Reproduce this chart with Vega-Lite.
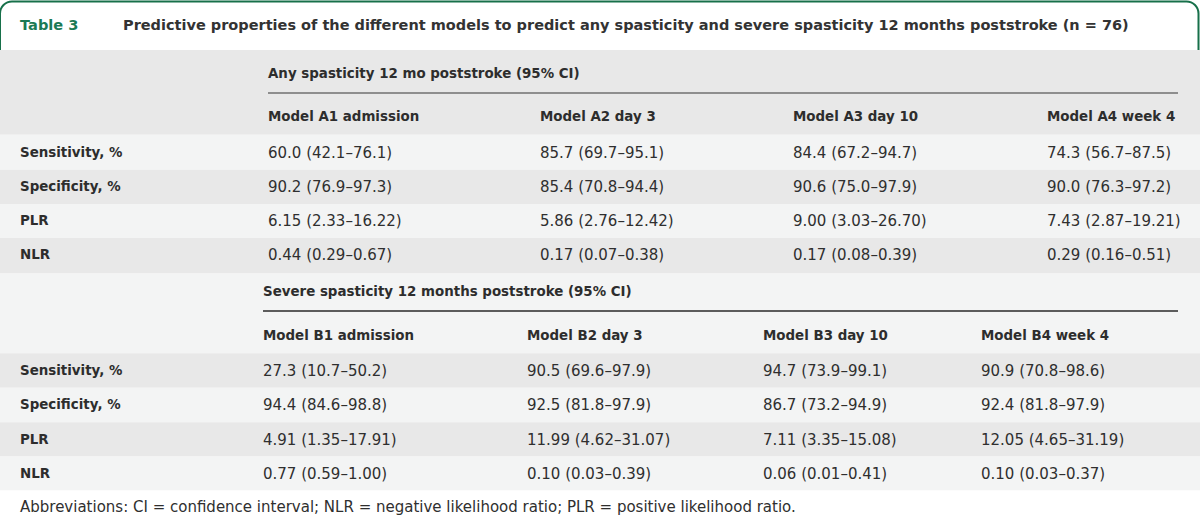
{
  "$schema": "https://vega.github.io/schema/vega-lite/v6.json",
  "width": 1200,
  "height": 525,
  "padding": 0,
  "autosize": {"type": "none"},
  "background": "white",
  "config": {"view": {"stroke": null}, "text": {"font": "DejaVu Sans", "fontSize": 15, "baseline": "middle", "align": "left", "color": "#2f2f2f"}},
  "datasets": {
    "bands": [
      {"top": 0.5, "bottom": 3.5, "shade": "dark"},
      {"top": 3.5, "bottom": 4.5, "shade": "light"},
      {"top": 4.5, "bottom": 5.5, "shade": "dark"},
      {"top": 5.5, "bottom": 6.5, "shade": "light"},
      {"top": 6.5, "bottom": 7.5, "shade": "dark"},
      {"top": 7.5, "bottom": 10.5, "shade": "light"},
      {"top": 10.5, "bottom": 11.5, "shade": "dark"},
      {"top": 11.5, "bottom": 12.5, "shade": "light"},
      {"top": 12.5, "bottom": 13.5, "shade": "dark"},
      {"top": 13.5, "bottom": 14.5, "shade": "light"}
    ],
    "rules": [
      {"sec": "A", "row": 2, "from": 1, "to": 5},
      {"sec": "B", "row": 9, "from": 1, "to": 5}
    ],
    "cells": [
      {"sec": "T", "row": 0, "col": 0, "kind": "tag", "text": "Table 3"},
      {"sec": "T", "row": 0, "col": 0, "kind": "title", "text": "Predictive properties of the different models to predict any spasticity and severe spasticity 12 months poststroke (n = 76)"},
      {"sec": "A", "row": 1, "col": 1, "kind": "head", "text": "Any spasticity 12 mo poststroke (95% CI)"},
      {"sec": "A", "row": 3, "col": 1, "kind": "head", "text": "Model A1 admission"},
      {"sec": "A", "row": 3, "col": 2, "kind": "head", "text": "Model A2 day 3"},
      {"sec": "A", "row": 3, "col": 3, "kind": "head", "text": "Model A3 day 10"},
      {"sec": "A", "row": 3, "col": 4, "kind": "head", "text": "Model A4 week 4"},
      {"sec": "A", "row": 4, "col": 0, "kind": "label", "text": "Sensitivity, %"},
      {"sec": "A", "row": 4, "col": 1, "kind": "value", "text": "60.0 (42.1–76.1)"},
      {"sec": "A", "row": 4, "col": 2, "kind": "value", "text": "85.7 (69.7–95.1)"},
      {"sec": "A", "row": 4, "col": 3, "kind": "value", "text": "84.4 (67.2–94.7)"},
      {"sec": "A", "row": 4, "col": 4, "kind": "value", "text": "74.3 (56.7–87.5)"},
      {"sec": "A", "row": 5, "col": 0, "kind": "label", "text": "Specificity, %"},
      {"sec": "A", "row": 5, "col": 1, "kind": "value", "text": "90.2 (76.9–97.3)"},
      {"sec": "A", "row": 5, "col": 2, "kind": "value", "text": "85.4 (70.8–94.4)"},
      {"sec": "A", "row": 5, "col": 3, "kind": "value", "text": "90.6 (75.0–97.9)"},
      {"sec": "A", "row": 5, "col": 4, "kind": "value", "text": "90.0 (76.3–97.2)"},
      {"sec": "A", "row": 6, "col": 0, "kind": "label", "text": "PLR"},
      {"sec": "A", "row": 6, "col": 1, "kind": "value", "text": "6.15 (2.33–16.22)"},
      {"sec": "A", "row": 6, "col": 2, "kind": "value", "text": "5.86 (2.76–12.42)"},
      {"sec": "A", "row": 6, "col": 3, "kind": "value", "text": "9.00 (3.03–26.70)"},
      {"sec": "A", "row": 6, "col": 4, "kind": "value", "text": "7.43 (2.87–19.21)"},
      {"sec": "A", "row": 7, "col": 0, "kind": "label", "text": "NLR"},
      {"sec": "A", "row": 7, "col": 1, "kind": "value", "text": "0.44 (0.29–0.67)"},
      {"sec": "A", "row": 7, "col": 2, "kind": "value", "text": "0.17 (0.07–0.38)"},
      {"sec": "A", "row": 7, "col": 3, "kind": "value", "text": "0.17 (0.08–0.39)"},
      {"sec": "A", "row": 7, "col": 4, "kind": "value", "text": "0.29 (0.16–0.51)"},
      {"sec": "B", "row": 8, "col": 1, "kind": "head", "text": "Severe spasticity 12 months poststroke (95% CI)"},
      {"sec": "B", "row": 10, "col": 1, "kind": "head", "text": "Model B1 admission"},
      {"sec": "B", "row": 10, "col": 2, "kind": "head", "text": "Model B2 day 3"},
      {"sec": "B", "row": 10, "col": 3, "kind": "head", "text": "Model B3 day 10"},
      {"sec": "B", "row": 10, "col": 4, "kind": "head", "text": "Model B4 week 4"},
      {"sec": "B", "row": 11, "col": 0, "kind": "label", "text": "Sensitivity, %"},
      {"sec": "B", "row": 11, "col": 1, "kind": "value", "text": "27.3 (10.7–50.2)"},
      {"sec": "B", "row": 11, "col": 2, "kind": "value", "text": "90.5 (69.6–97.9)"},
      {"sec": "B", "row": 11, "col": 3, "kind": "value", "text": "94.7 (73.9–99.1)"},
      {"sec": "B", "row": 11, "col": 4, "kind": "value", "text": "90.9 (70.8–98.6)"},
      {"sec": "B", "row": 12, "col": 0, "kind": "label", "text": "Specificity, %"},
      {"sec": "B", "row": 12, "col": 1, "kind": "value", "text": "94.4 (84.6–98.8)"},
      {"sec": "B", "row": 12, "col": 2, "kind": "value", "text": "92.5 (81.8–97.9)"},
      {"sec": "B", "row": 12, "col": 3, "kind": "value", "text": "86.7 (73.2–94.9)"},
      {"sec": "B", "row": 12, "col": 4, "kind": "value", "text": "92.4 (81.8–97.9)"},
      {"sec": "B", "row": 13, "col": 0, "kind": "label", "text": "PLR"},
      {"sec": "B", "row": 13, "col": 1, "kind": "value", "text": "4.91 (1.35–17.91)"},
      {"sec": "B", "row": 13, "col": 2, "kind": "value", "text": "11.99 (4.62–31.07)"},
      {"sec": "B", "row": 13, "col": 3, "kind": "value", "text": "7.11 (3.35–15.08)"},
      {"sec": "B", "row": 13, "col": 4, "kind": "value", "text": "12.05 (4.65–31.19)"},
      {"sec": "B", "row": 14, "col": 0, "kind": "label", "text": "NLR"},
      {"sec": "B", "row": 14, "col": 1, "kind": "value", "text": "0.77 (0.59–1.00)"},
      {"sec": "B", "row": 14, "col": 2, "kind": "value", "text": "0.10 (0.03–0.39)"},
      {"sec": "B", "row": 14, "col": 3, "kind": "value", "text": "0.06 (0.01–0.41)"},
      {"sec": "B", "row": 14, "col": 4, "kind": "value", "text": "0.10 (0.03–0.37)"},
      {"sec": "F", "row": 15, "col": 0, "kind": "note", "text": "Abbreviations: CI = confidence interval; NLR = negative likelihood ratio; PLR = positive likelihood ratio."}
    ]
  },
  "resolve": {"scale": {"x": "independent"}},
  "layer": [
    {
      "data": {"values": [{"box": "title"}]},
      "mark": {"type": "rect", "fill": "white", "stroke": "#17704a", "strokeWidth": 2, "cornerRadius": 12, "xOffset": -1.5, "x2Offset": 1.5},
      "encoding": {
        "y": {"datum": -0.5, "type": "quantitative", "axis": null, "scale": {"domain": [-0.5, 0, 1, 2, 3, 4, 5, 6, 7, 8, 9, 10, 11, 12, 13, 14, 15], "range": [1.5, 26, 74, 93, 117, 152.5, 187, 221, 255, 292, 311, 336, 370.5, 405, 439.5, 473.5, 507], "zero": false, "nice": false}},
        "y2": {"datum": 1}
      }
    },
    {
      "data": {"name": "bands"},
      "mark": {"type": "rect"},
      "encoding": {
        "y": {"field": "top", "type": "quantitative", "axis": null},
        "y2": {"field": "bottom"},
        "fill": {"field": "shade", "type": "nominal", "legend": null, "scale": {"domain": ["dark", "light"], "range": ["#e8e8e8", "#f3f4f4"]}}
      }
    },
    {
      "data": {"name": "rules"},
      "transform": [{"filter": "datum.sec === 'A'"}],
      "mark": {"type": "rule", "stroke": "#707070", "strokeWidth": 1.6},
      "encoding": {
        "x": {"field": "from", "type": "quantitative", "axis": null, "scale": {"domain": [0, 1, 2, 3, 4, 5], "range": [20, 268, 540, 793, 1047, 1178], "zero": false, "nice": false}},
        "x2": {"field": "to"},
        "y": {"field": "row", "type": "quantitative", "axis": null}
      }
    },
    {
      "data": {"name": "rules"},
      "transform": [{"filter": "datum.sec === 'B'"}],
      "mark": {"type": "rule", "stroke": "#2a2a2a", "strokeWidth": 1.6},
      "encoding": {
        "x": {"field": "from", "type": "quantitative", "axis": null, "scale": {"domain": [0, 1, 2, 3, 4, 5], "range": [20, 263, 527, 763, 981, 1178], "zero": false, "nice": false}},
        "x2": {"field": "to"},
        "y": {"field": "row", "type": "quantitative", "axis": null}
      }
    },
    {
      "data": {"name": "cells"},
      "transform": [{"filter": "(datum.sec === 'A' && datum.kind === 'value') || datum.kind === 'note'"}],
      "mark": {"type": "text"},
      "encoding": {
        "x": {"field": "col", "type": "quantitative", "axis": null, "scale": {"domain": [0, 1, 2, 3, 4, 5], "range": [20, 268, 540, 793, 1047, 1178], "zero": false, "nice": false}},
        "y": {"field": "row", "type": "quantitative", "axis": null},
        "text": {"field": "text"}
      }
    },
    {
      "data": {"name": "cells"},
      "transform": [{"filter": "datum.sec === 'A' && datum.kind !== 'value'"}],
      "mark": {"type": "text", "fontWeight": "bold", "fontSize": 13.4, "color": "#2d2d2d"},
      "encoding": {
        "x": {"field": "col", "type": "quantitative", "axis": null, "scale": {"domain": [0, 1, 2, 3, 4, 5], "range": [20, 268, 540, 793, 1047, 1178], "zero": false, "nice": false}},
        "y": {"field": "row", "type": "quantitative", "axis": null},
        "text": {"field": "text"}
      }
    },
    {
      "data": {"name": "cells"},
      "transform": [{"filter": "datum.sec === 'B' && datum.kind === 'value'"}],
      "mark": {"type": "text"},
      "encoding": {
        "x": {"field": "col", "type": "quantitative", "axis": null, "scale": {"domain": [0, 1, 2, 3, 4, 5], "range": [20, 263, 527, 763, 981, 1178], "zero": false, "nice": false}},
        "y": {"field": "row", "type": "quantitative", "axis": null},
        "text": {"field": "text"}
      }
    },
    {
      "data": {"name": "cells"},
      "transform": [{"filter": "datum.sec === 'B' && datum.kind !== 'value'"}],
      "mark": {"type": "text", "fontWeight": "bold", "fontSize": 13.4, "color": "#2d2d2d"},
      "encoding": {
        "x": {"field": "col", "type": "quantitative", "axis": null, "scale": {"domain": [0, 1, 2, 3, 4, 5], "range": [20, 263, 527, 763, 981, 1178], "zero": false, "nice": false}},
        "y": {"field": "row", "type": "quantitative", "axis": null},
        "text": {"field": "text"}
      }
    },
    {
      "data": {"name": "cells"},
      "transform": [{"filter": "datum.kind === 'tag'"}],
      "mark": {"type": "text", "fontWeight": "bold", "color": "#1b7a55", "fontSize": 14.6},
      "encoding": {
        "x": {"field": "col", "type": "quantitative", "axis": null, "scale": {"domain": [0, 1, 2, 3, 4, 5], "range": [20, 268, 540, 793, 1047, 1178], "zero": false, "nice": false}},
        "y": {"field": "row", "type": "quantitative", "axis": null},
        "text": {"field": "text"}
      }
    },
    {
      "data": {"name": "cells"},
      "transform": [{"filter": "datum.kind === 'title'"}],
      "mark": {"type": "text", "fontWeight": "bold", "color": "#333333", "fontSize": 14.5, "dx": 103},
      "encoding": {
        "x": {"field": "col", "type": "quantitative", "axis": null, "scale": {"domain": [0, 1, 2, 3, 4, 5], "range": [20, 268, 540, 793, 1047, 1178], "zero": false, "nice": false}},
        "y": {"field": "row", "type": "quantitative", "axis": null},
        "text": {"field": "text"}
      }
    }
  ]
}
